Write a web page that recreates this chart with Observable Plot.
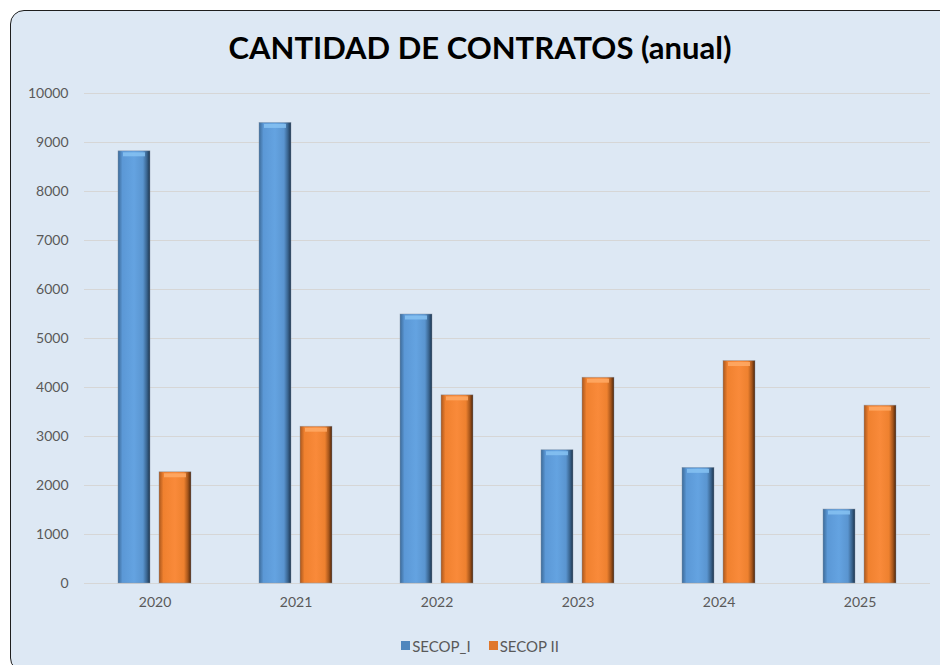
<!DOCTYPE html>
<html>
<head>
<meta charset="utf-8">
<script src="https://cdn.jsdelivr.net/npm/d3@7"></script>
<script src="https://cdn.jsdelivr.net/npm/@observablehq/plot@0.6"></script>
<style>
  html, body { margin: 0; padding: 0; background: #ffffff; overflow: hidden; width: 940px; height: 665px; }
  #frame { position: absolute; left: 10px; top: 10px; width: 945px; height: 660px; background: #dde8f4;
           border: 1.5px solid #1e1e1e; border-radius: 14px; }
  #title { position: absolute; left: 10px; top: 28px; width: 940px; text-align: center;
           font-family: Lato, "Open Sans", sans-serif; font-weight: 700; font-size: 31px; color: #000; }
  #chart { position: absolute; left: 0; top: 75px; }
  #legend { position: absolute; left: 10px; top: 635px; width: 940px; text-align: center;
            font-family: Lato, "Open Sans", sans-serif; font-size: 15px; color: #595959; }
  .item { display: inline-flex; align-items: center; margin: 0 9px; }
  .sw { width: 9px; height: 9px; margin-right: 2px; }
</style>
</head>
<body>
<div id="frame"></div>
<div id="title">CANTIDAD DE CONTRATOS (anual)</div>
<div id="chart"></div>
<div id="legend"></div>
<script>
const years = ["2020", "2021", "2022", "2023", "2024", "2025"];
const series = ["SECOP_I", "SECOP II"];
const secopI = [8820, 9400, 5490, 2720, 2360, 1510];
const secopII = [2270, 3200, 3840, 4200, 4540, 3630];
const yTicks = [0, 1000, 2000, 3000, 4000, 5000, 6000, 7000, 8000, 9000, 10000];
const fills = ["url(#gBlue)", "url(#gOrange)"];
const bevelColors = ["#86c2f2", "#ffaa66"];
const swatchColors = ["#4f86bd", "#e0772c"];

const table = [];
years.forEach((y, i) => {
  table.push({year: y, series: series[0], value: secopI[i]});
  table.push({year: y, series: series[1], value: secopII[i]});
});

const chart = Plot.plot({
  width: 940,
  height: 550,
  marginLeft: 83,
  marginRight: 9,
  marginTop: 18,
  marginBottom: 42,
  style: {background: "transparent", fontFamily: "Lato, 'Open Sans', sans-serif", fontSize: "14px", color: "#595959"},
  fx: {domain: years, padding: 0, label: null, tickSize: 0, tickPadding: 14},
  x: {domain: series, paddingInner: 0.22, paddingOuter: 0.82, axis: null},
  y: {domain: [0, 10000], ticks: yTicks, tickFormat: d => String(d), label: null, tickSize: 0, tickPadding: 16},
  color: {domain: series, range: fills},
  marks: [
    Plot.gridY(yTicks, {stroke: "#d6d6d6", strokeOpacity: 1, strokeWidth: 1}),
    Plot.barY(table, {fx: "year", x: "series", y: "value", fill: "series", stroke: "#8796a6", strokeWidth: 0.6, strokeOpacity: 0.7}),
    Plot.tickY(table, {fx: "year", x: "series", y: "value", stroke: d => bevelColors[series.indexOf(d.series)],
      strokeWidth: 4, dy: 3, insetLeft: 5, insetRight: 5, strokeOpacity: 0.85})
  ]
});

// gradients for the bevelled bar look
const ns = "http://www.w3.org/2000/svg";
const defs = document.createElementNS(ns, "defs");
function grad(id, stops) {
  const g = document.createElementNS(ns, "linearGradient");
  g.setAttribute("id", id);
  g.setAttribute("x1", "0"); g.setAttribute("x2", "1"); g.setAttribute("y1", "0"); g.setAttribute("y2", "0");
  stops.forEach(([o, c]) => {
    const s = document.createElementNS(ns, "stop");
    s.setAttribute("offset", o); s.setAttribute("stop-color", c);
    g.appendChild(s);
  });
  defs.appendChild(g);
}
grad("gBlue", [["0", "#3c6a98"], ["0.14", "#5b98d6"], ["0.5", "#64a3e1"], ["0.78", "#5a95d0"], ["0.9", "#3a6590"], ["1", "#1c344d"]]);
grad("gOrange", [["0", "#a9561c"], ["0.14", "#f0812f"], ["0.5", "#f98a3a"], ["0.78", "#ee812f"], ["0.9", "#a7561b"], ["1", "#4a250b"]]);
chart.insertBefore(defs, chart.firstChild);
document.getElementById("chart").appendChild(chart);

const legend = document.getElementById("legend");
series.forEach((s, i) => {
  const item = document.createElement("span");
  item.className = "item";
  const sw = document.createElement("span");
  sw.className = "sw";
  sw.style.background = swatchColors[i];
  const t = document.createElement("span");
  t.textContent = s;
  item.appendChild(sw); item.appendChild(t);
  legend.appendChild(item);
});
</script>
</body>
</html>
